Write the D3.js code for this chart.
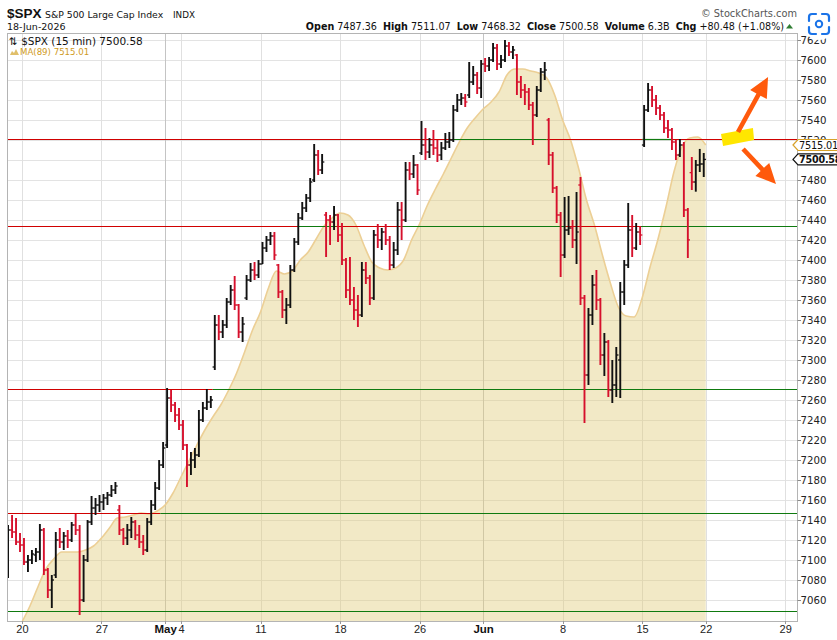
<!DOCTYPE html>
<html>
<head>
<meta charset="utf-8">
<title>$SPX 15 min with MA(89)</title>
<script src="https://cdn.jsdelivr.net/npm/d3@7"></script>
<style>
  body { margin: 0; background: #fff; }
  svg text { font-family: "DejaVu Sans", Verdana, sans-serif; }
  .xlab { font-family: "Liberation Sans Narrow", "Liberation Sans", Arial, sans-serif; }
</style>
</head>
<body>
<div id="chart"></div>
<script>
// ---- data ----
// quarter-day bars, 4 per trading day, first day is Apr 17 (day index -1)
var barOpen = [
  7085,7130,7128,7118, 7115,7098,7100,7105, 7108,7130,7090,7070, 7085,7120,7118,7124,
  7120,7135,7130,7060, 7100,7138,7152,7155, 7158,7162,7165,7170, 7150,7130,7122,7130,
  7138,7125,7118,7110, 7138,7155,7172,7195, 7215,7262,7255,7245, 7235,7215,7195,7200,
  7205,7240,7252,7258, 7293,7335,7328,7335, 7358,7370,7355,7328, 7362,7380,7390,7385,
  7396,7412,7420,7424, 7395,7368,7350,7355, 7390,7418,7442,7452, 7462,7480,7505,7490,
  7445,7440,7438,7445, 7425,7400,7370,7360, 7350,7345,7390,7382, 7362,7425,7420,7428,
  7420,7395,7410,7450, 7440,7490,7486,7495, 7507,7515,7508,7515, 7512,7505,7512,7518,
  7520,7550,7560,7562, 7565,7578,7585,7572, 7596,7594,7600,7612, 7596,7600,7614,7608,
  7605,7578,7570,7568, 7555,7545,7570,7588, 7540,7505,7472,7445, 7405,7430,7432,7420,
  7475,7362,7285,7345, 7375,7360,7305,7318, 7270,7275,7300,7368, 7395,7430,7412,7428,
  7515,7550,7570,7560, 7552,7545,7532,7530, 7518,7505,7515,7450, 7487.36,7478,7495,7496
];
var barHigh = [
  7135,7145,7142,7127, 7122,7105,7110,7112, 7136,7132,7092,7085, 7128,7132,7128,7130,
  7138,7146,7135,7105, 7140,7164,7162,7165, 7166,7168,7175,7178, 7155,7132,7136,7143,
  7140,7135,7125,7142, 7160,7178,7200,7218, 7272,7270,7258,7252, 7240,7216,7208,7212,
  7250,7258,7271,7264, 7345,7345,7340,7362, 7375,7384,7356,7343, 7385,7397,7398,7400,
  7418,7424,7428,7428, 7396,7370,7362,7395, 7422,7447,7458,7466, 7482,7516,7510,7506,
  7448,7445,7454,7446, 7437,7402,7403,7373, 7365,7398,7398,7385, 7430,7436,7432,7436,
  7424,7418,7458,7458, 7498,7498,7505,7496, 7539,7532,7522,7530, 7520,7518,7527,7528,
  7555,7566,7567,7566, 7598,7594,7588,7600, 7602,7603,7617,7616, 7605,7620,7618,7614,
  7606,7584,7576,7572, 7558,7574,7592,7598, 7542,7508,7474,7448, 7463,7464,7440,7468,
  7483,7365,7352,7385, 7390,7362,7327,7320, 7300,7313,7378,7400, 7457,7445,7437,7434,
  7555,7577,7574,7565, 7555,7548,7540,7532, 7520,7521,7518,7452, 7503,7500,7511.07,7507
];
var barLow = [
  7082,7122,7115,7108, 7095,7088,7096,7098, 7100,7085,7062,7052, 7082,7112,7110,7112,
  7118,7125,7045,7058, 7098,7135,7145,7148, 7150,7155,7163,7166, 7125,7115,7115,7122,
  7120,7112,7105,7108, 7135,7150,7170,7192, 7212,7248,7238,7230, 7210,7173,7185,7192,
  7203,7238,7250,7252, 7290,7320,7322,7332, 7355,7350,7322,7318, 7360,7378,7380,7382,
  7396,7408,7415,7400, 7362,7342,7336,7352, 7388,7415,7440,7448, 7458,7478,7485,7486,
  7403,7415,7430,7418, 7395,7362,7355,7340, 7333,7343,7376,7355, 7360,7412,7410,7415,
  7390,7392,7405,7420, 7438,7480,7482,7465, 7505,7500,7502,7505, 7498,7500,7510,7512,
  7518,7548,7555,7553, 7562,7575,7566,7562, 7588,7589,7598,7590, 7592,7598,7604,7601,
  7565,7562,7555,7550, 7515,7543,7568,7580, 7495,7467,7437,7383, 7402,7425,7412,7396,
  7355,7237,7275,7335, 7350,7295,7284,7263, 7257,7263,7262,7355, 7392,7403,7410,7415,
  7513,7548,7553,7545, 7540,7527,7522,7510, 7500,7503,7443,7402, 7470,7468.32,7488,7483
];
var barClose = [
  7130,7128,7118,7115, 7098,7100,7106,7108, 7130,7090,7070,7080, 7120,7118,7124,7120,
  7135,7130,7060,7100, 7138,7152,7155,7158, 7162,7165,7170,7174, 7130,7122,7130,7138,
  7125,7118,7110,7138, 7155,7172,7195,7212, 7262,7255,7245,7235, 7215,7195,7200,7205,
  7240,7252,7258,7260, 7335,7328,7335,7358, 7370,7355,7328,7336, 7380,7390,7385,7396,
  7412,7420,7424,7405, 7368,7350,7355,7390, 7418,7442,7452,7462, 7478,7505,7490,7498,
  7440,7438,7445,7425, 7400,7370,7360,7350, 7345,7390,7382,7362, 7425,7420,7428,7420,
  7395,7410,7450,7440, 7490,7486,7495,7470, 7515,7508,7515,7512, 7505,7512,7518,7520,
  7550,7560,7562,7558, 7578,7585,7572,7596, 7594,7600,7612,7596, 7600,7614,7608,7610,
  7578,7570,7568,7555, 7545,7570,7588,7590, 7505,7472,7445,7405, 7430,7432,7420,7428,
  7362,7285,7345,7375, 7360,7305,7318,7270, 7275,7305,7368,7395, 7430,7412,7428,7425,
  7550,7570,7560,7552, 7545,7532,7530,7518, 7505,7515,7450,7420.1, 7478,7495,7496,7500.58
];

// MA(89), sampled every half trading day from Apr 20 open (day 0) to Jun 18 close (day 43)
var maValues = [
  7038,7054,7073,7091,7101,7108,7108,7108,7110,7114,
  7122,7132,7142,7143,7145,7147,7146,7149,7155,7167,
  7183,7199,7215,7230,7243,7255,7270,7287,7308,7330,
  7348,7372,7389,7386,7389,7400,7408,7421,7434,7442,
  7447,7445,7435,7415,7398,7392,7390,7392,7400,7420,
  7436,7455,7471,7486,7502,7518,7532,7542,7551,7558,
  7568,7585,7591,7591,7589,7587,7582,7565,7540,7520,
  7492,7460,7435,7405,7377,7353,7344,7343,7362,7393,
  7421,7453,7488,7513,7522,7523,7515
];

// horizontal levels drawn on the chart; colour flips at the listed trading-day indices
var levels = [7521, 7434, 7271, 7147, 7049];
var levelFirstColor = ["red", "red", "red", "red", "green"];
var levelSwitchDays = [[27.0, 33.0, 39.0, 40.9], [17.4, 19.75, 23.8, 34.2, 38.9], [12.0], [8.7], []];

var yTicks = [7060,7080,7100,7120,7140,7160,7180,7200,7220,7240,7260,7280,7300,7320,7340,
              7360,7380,7400,7420,7440,7460,7480,7500,7520,7540,7560,7580,7600,7620];
var weekTickLabels = ["20", "27", "4", "11", "18", "26", "8", "15", "22", "29"];
var weekTickDays = [0, 5, 10, 15, 20, 25, 34, 39, 43, 48];
var monthTickLabels = ["May", "Jun"];
var monthTickDays = [9, 29];

var lastClose = 7500.58, lastMA = 7515.01;

// ---- drawing ----
var W = 837, H = 640;
var P = {left: 7, right: 797, top: 33, bottom: 621};
var RED = "#d6102c", GREEN = "#0f7a0f", LRED = "#d00000";

var x = d3.scaleLinear().domain([-0.943, 48.74]).range([P.left, P.right]);
var y = d3.scaleLinear().domain([7039, 7627]).range([P.bottom, P.top]);

var svg = d3.select("#chart").append("svg").attr("width", W).attr("height", H);

svg.append("defs").append("clipPath").attr("id", "plotclip")
  .append("rect").attr("x", P.left).attr("y", P.top)
  .attr("width", P.right - P.left).attr("height", P.bottom - P.top);

// gridlines
var grid = svg.append("g");
grid.selectAll("line.h").data(yTicks).join("line")
  .attr("x1", P.left).attr("x2", P.right)
  .attr("y1", function (d) { return Math.round(y(d)) + 0.5; })
  .attr("y2", function (d) { return Math.round(y(d)) + 0.5; })
  .attr("stroke", "#e3e3e3");
grid.selectAll("line.w").data(weekTickDays).join("line")
  .attr("x1", function (d) { return Math.round(x(d)) + 0.5; })
  .attr("x2", function (d) { return Math.round(x(d)) + 0.5; })
  .attr("y1", P.top).attr("y2", P.bottom)
  .attr("stroke", "#e0e0e0");
grid.selectAll("line.m").data(monthTickDays).join("line")
  .attr("x1", function (d) { return Math.round(x(d)) + 0.5; })
  .attr("x2", function (d) { return Math.round(x(d)) + 0.5; })
  .attr("y1", P.top).attr("y2", P.bottom)
  .attr("stroke", "#c4c4c4");

var plot = svg.append("g").attr("clip-path", "url(#plotclip)");

// MA(89) area
var maPts = maValues.map(function (v, i) { return {t: i / 2, v: v}; });
plot.append("path").datum(maPts)
  .attr("d", d3.area().curve(d3.curveMonotoneX)
    .x(function (d) { return x(d.t); })
    .y0(P.bottom + 2).y1(function (d) { return y(d.v); }))
  .attr("fill", "rgb(224,202,120)").attr("fill-opacity", 0.42);
plot.append("path").datum(maPts)
  .attr("d", d3.line().curve(d3.curveMonotoneX)
    .x(function (d) { return x(d.t); })
    .y(function (d) { return y(d.v); }))
  .attr("fill", "none").attr("stroke", "#eccf95").attr("stroke-width", 1.6);

// level lines
levels.forEach(function (lv, i) {
  var cuts = [x.domain()[0]].concat(levelSwitchDays[i], [x.domain()[1]]);
  var col = levelFirstColor[i];
  var yy = Math.round(y(lv)) + 0.5;
  for (var k = 0; k < cuts.length - 1; k++) {
    plot.append("line")
      .attr("x1", x(cuts[k])).attr("x2", x(cuts[k + 1]))
      .attr("y1", yy).attr("y2", yy)
      .attr("stroke", col === "red" ? LRED : GREEN).attr("stroke-width", 1.2);
    col = col === "red" ? "green" : "red";
  }
});

// OHLC bars
var bars = barOpen.map(function (o, j) {
  return {t: -1 + (j + 0.5) / 4, o: o, h: barHigh[j], l: barLow[j], c: barClose[j]};
});
function barColor(d) { return d.c >= d.o ? "#111" : RED; }
var bg = plot.append("g");
bg.selectAll("line.hl").data(bars).join("line")
  .attr("x1", function (d) { return x(d.t); }).attr("x2", function (d) { return x(d.t); })
  .attr("y1", function (d) { return y(d.h); }).attr("y2", function (d) { return y(d.l); })
  .attr("stroke", barColor).attr("stroke-width", 1.9);
bg.selectAll("line.op").data(bars).join("line")
  .attr("x1", function (d) { return x(d.t) - 2.2; }).attr("x2", function (d) { return x(d.t); })
  .attr("y1", function (d) { return y(d.o); }).attr("y2", function (d) { return y(d.o); })
  .attr("stroke", barColor).attr("stroke-width", 1.3);
bg.selectAll("line.cl").data(bars).join("line")
  .attr("x1", function (d) { return x(d.t); }).attr("x2", function (d) { return x(d.t) + 2.2; })
  .attr("y1", function (d) { return y(d.c); }).attr("y2", function (d) { return y(d.c); })
  .attr("stroke", barColor).attr("stroke-width", 1.3);

// hand-drawn annotations: highlighter and two arrows
var hl = [[43.96, 7526], [45.97, 7532], [46.04, 7520], [44.09, 7514]];
svg.append("polygon")
  .attr("points", hl.map(function (p) { return x(p[0]) + "," + y(p[1]); }).join(" "))
  .attr("fill", "#ffe600");
function arrow(t0, v0, t1, v1) {
  var x0 = x(t0), y0 = y(v0), x1 = x(t1), y1 = y(v1);
  var dx = x1 - x0, dy = y1 - y0, len = Math.sqrt(dx * dx + dy * dy);
  var ux = dx / len, uy = dy / len, nx = -uy, ny = ux;
  var hlen = 20, hw = 9.5, sw = 2.3;
  var bx = x1 - ux * hlen, by = y1 - uy * hlen;
  var pts = [
    [x0 + nx * sw, y0 + ny * sw], [bx + nx * sw, by + ny * sw], [bx + nx * hw, by + ny * hw],
    [x1, y1], [bx - nx * hw, by - ny * hw], [bx - nx * sw, by - ny * sw], [x0 - nx * sw, y0 - ny * sw]
  ];
  svg.append("polygon").attr("points", pts.map(function (p) { return p.join(","); }).join(" "))
    .attr("fill", "#ff5a0c");
}
arrow(45.03, 7528, 46.92, 7583);
arrow(45.35, 7511, 47.42, 7476);

// frame
svg.append("rect").attr("x", P.left + 0.5).attr("y", P.top + 0.5)
  .attr("width", P.right - P.left).attr("height", P.bottom - P.top)
  .attr("fill", "none").attr("stroke", "#b4b4b4");

// y axis on the right (the label under the close tag is hidden, as in the source)
var ya = svg.append("g");
ya.selectAll("line").data(yTicks).join("line")
  .attr("x1", P.right + 0.5).attr("x2", P.right + 4)
  .attr("y1", function (d) { return Math.round(y(d)) + 0.5; })
  .attr("y2", function (d) { return Math.round(y(d)) + 0.5; })
  .attr("stroke", "#888");
ya.selectAll("text").data(yTicks.filter(function (d) {
    return Math.abs(y(d) - y(lastClose)) > 6;
  })).join("text")
  .attr("x", P.right + 3.5).attr("y", function (d) { return y(d) + 3.8; })
  .attr("font-size", "10.2px").attr("fill", "#222")
  .text(function (d) { return d; });

// value tags
function tag(v, stroke, bold) {
  var yy = y(v);
  svg.append("path")
    .attr("d", "M" + (P.right - 4) + "," + yy + " L" + (P.right + 1) + "," + (yy - 5.5) +
      " L" + (W + 4) + "," + (yy - 5.5) + " L" + (W + 4) + "," + (yy + 5.5) +
      " L" + (P.right + 1) + "," + (yy + 5.5) + " Z")
    .attr("fill", "#fff").attr("stroke", stroke).attr("stroke-width", 1.2);
  svg.append("text").attr("x", P.right + 2).attr("y", yy + 3.6)
    .attr("font-size", bold ? "9.6px" : "9.8px").attr("font-weight", bold ? "bold" : "normal")
    .attr("letter-spacing", "-0.2").attr("fill", "#111").text(v.toFixed(2));
}
tag(lastMA, "#d8a22a", false);
tag(lastClose, "#111", true);

// x axis labels
var xa = svg.append("g");
xa.selectAll("line").data(weekTickDays.concat(monthTickDays)).join("line")
  .attr("x1", function (d) { return Math.round(x(d)) + 0.5; })
  .attr("x2", function (d) { return Math.round(x(d)) + 0.5; })
  .attr("y1", P.bottom).attr("y2", P.bottom + 3).attr("stroke", "#999");
xa.selectAll("text.w").data(weekTickDays).join("text")
  .attr("class", "xlab")
  .attr("x", function (d) { return x(d) + 0.5; }).attr("y", P.bottom + 12)
  .attr("text-anchor", "middle").attr("font-size", "11px").attr("fill", "#222")
  .text(function (d, i) { return weekTickLabels[i]; });
xa.selectAll("text.m").data(monthTickDays).join("text")
  .attr("class", "xlab")
  .attr("x", function (d) { return x(d) + 0.5; }).attr("y", P.bottom + 12)
  .attr("text-anchor", "middle").attr("font-size", "11.5px").attr("font-weight", "bold")
  .attr("fill", "#111")
  .text(function (d, i) { return monthTickLabels[i]; });

// header
svg.append("text").attr("x", 7).attr("y", 18)
  .style("font-family", "'Liberation Sans', Arial, sans-serif")
  .attr("font-size", "13.5px").attr("font-weight", "bold").attr("fill", "#111").text("$SPX");
svg.append("text").attr("x", 45).attr("y", 17.5).attr("font-size", "9.3px").attr("fill", "#111")
  .text("S&P 500 Large Cap Index");
svg.append("text").attr("x", 173).attr("y", 17.5).attr("font-size", "8.8px").attr("fill", "#111")
  .text("INDX");
svg.append("text").attr("x", 7).attr("y", 30).attr("font-size", "9.5px").attr("fill", "#111")
  .text("18-Jun-2026");
svg.append("text").attr("x", 797).attr("y", 16.5).attr("text-anchor", "end")
  .attr("font-size", "9.8px").attr("fill", "#555").text("\u00a9 StockCharts.com");

var quote = [["Open", "7487.36"], ["High", "7511.07"], ["Low", "7468.32"], ["Close", "7500.58"],
             ["Volume", "6.3B"], ["Chg", "+80.48 (+1.08%)"]];
var qt = svg.append("text").attr("x", 784).attr("y", 30).attr("text-anchor", "end")
  .attr("font-size", "9.6px").attr("fill", "#111");
quote.forEach(function (q, i) {
  qt.append("tspan").attr("font-weight", "bold").attr("dx", i ? 6 : 0).text(q[0]);
  qt.append("tspan").attr("dx", 3).text(q[1]);
});
svg.append("path").attr("d", "M786,28.5 L793,28.5 L789.5,24 Z").attr("fill", "#2e7d32");

// legend inside plot
svg.append("text").attr("x", 9).attr("y", 45).attr("font-size", "10.5px").attr("fill", "#111")
  .text("\u21c5 $SPX (15 min) 7500.58");
svg.append("path").attr("d", "M10,55 L12,51 L14,53 L16,49 L19,55 Z").attr("fill", "#e0bf6a");
svg.append("text").attr("x", 20).attr("y", 55).attr("font-size", "8.6px").attr("fill", "#cf9a22")
  .text("MA(89) 7515.01");

// screen-capture lens badge at the top right
var lens = svg.append("g").attr("transform", "translate(819,24)");
lens.append("circle").attr("r", 16).attr("fill", "#fff");
lens.append("path")
  .attr("d", "M-10,-3 V-7 Q-10,-10 -7,-10 H-3 M3,-10 H7 Q10,-10 10,-7 V-3 M10,3 V7 Q10,10 7,10 H3 M-3,10 H-7 Q-10,10 -10,7 V3")
  .attr("fill", "none").attr("stroke", "#1a73e8").attr("stroke-width", 2.2).attr("stroke-linecap", "round");
lens.append("circle").attr("r", 3.2).attr("fill", "none").attr("stroke", "#1a73e8").attr("stroke-width", 2);
</script>
</body>
</html>
